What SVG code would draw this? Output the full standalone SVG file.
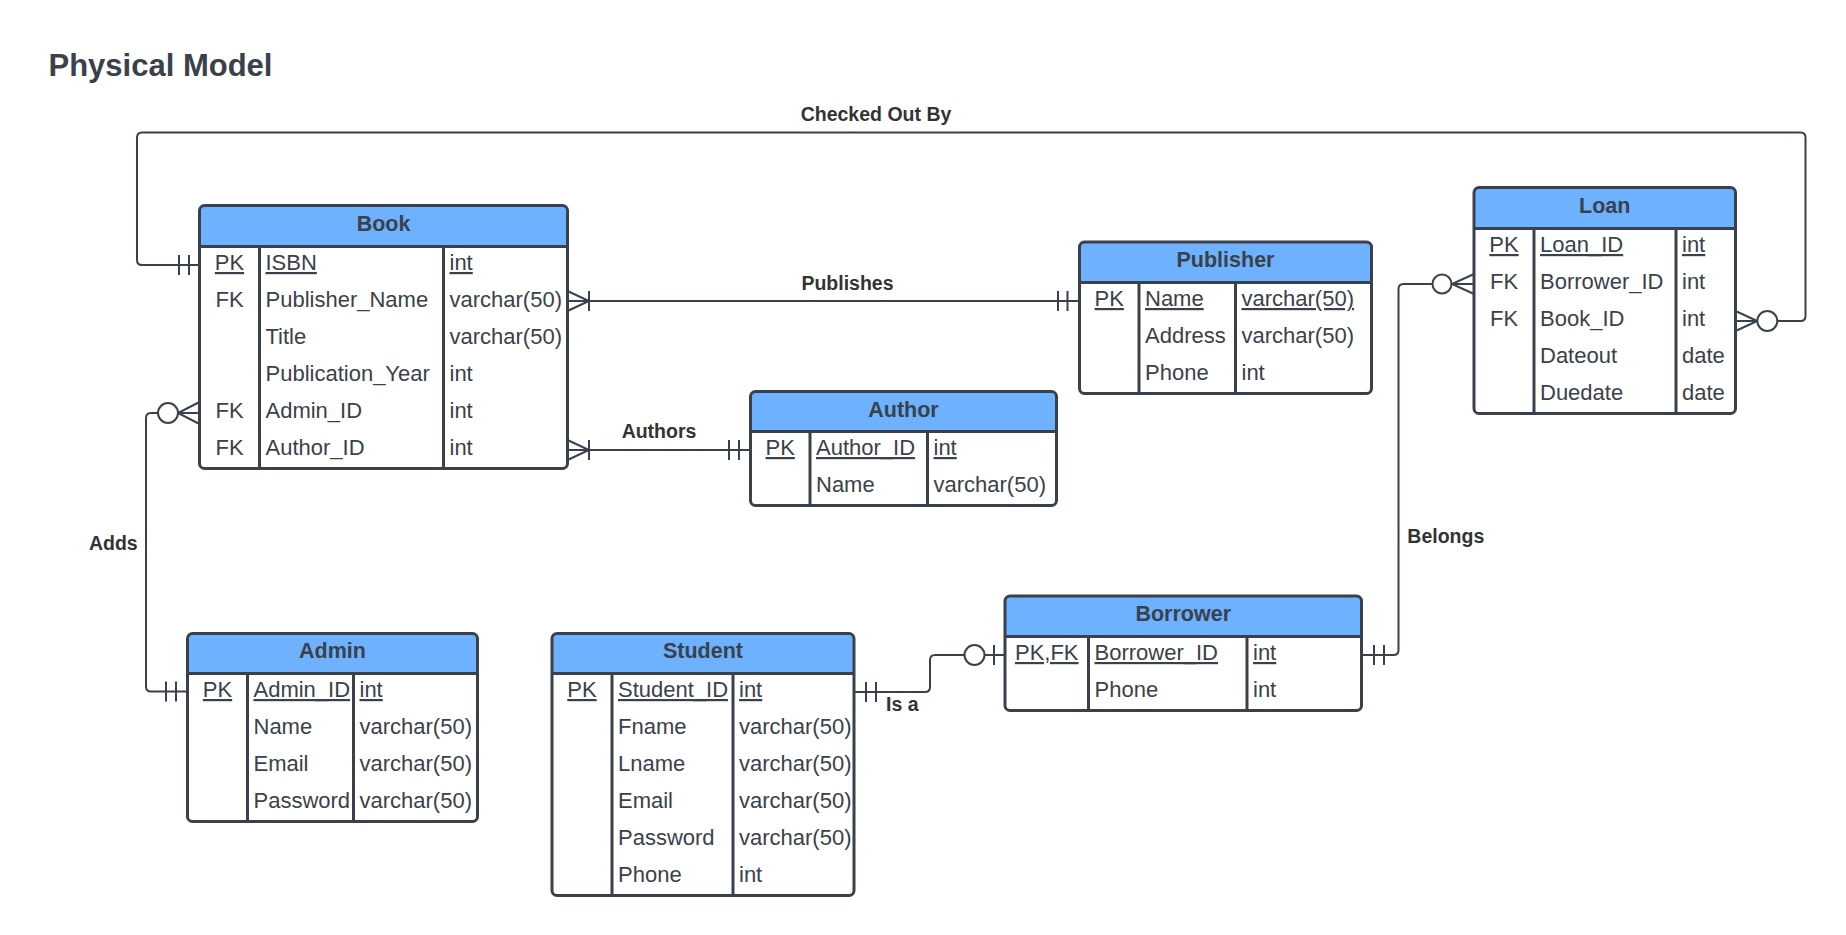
<svg xmlns="http://www.w3.org/2000/svg" width="1846" height="935" viewBox="0 0 1846 935">
<style>
  text { font-family: "Liberation Sans", Arial, sans-serif; fill: #3a414a; }
  .title { font-size: 31px; font-weight: bold; }
  .hdrtxt { font-size: 21.5px; font-weight: bold; text-anchor: middle; }
  .cell { font-size: 22px; }
  .key { font-size: 22px; text-anchor: middle; }
  .u { text-decoration: underline; }
  .lbl { font-size: 19.5px; font-weight: bold; fill: #333333; }
  .mid { text-anchor: middle; }
  .body { fill: #ffffff; }
  .hdr { fill: #6db1ff; }
  .frame { fill: none; stroke: #3a414a; stroke-width: 3; }
  .div { stroke: #3a414a; stroke-width: 3; }
  .conn { fill: none; stroke: #3a414a; stroke-width: 2; }
  .circ { fill: #ffffff; stroke: #3a414a; stroke-width: 2; }
</style>
<rect width="1846" height="935" fill="#ffffff"/>
<text class="title" x="48.5" y="76">Physical Model</text>

<g id="connectors">
  <!-- Checked Out By: Book ISBN -> Loan Book_ID -->
  <path class="conn" d="M199.5,265 H142 Q137,265 137,260 V137.5 Q137,132.5 142,132.5 H1800.5 Q1805.5,132.5 1805.5,137.5 V316 Q1805.5,321 1800.5,321 H1777.3"/>
  <path class="conn" d="M179,255 V275 M189,255 V275"/>
  <path class="conn" d="M1735.5,311 L1757.3,321 L1735.5,331 M1735.5,321 H1757.3"/>
  <circle class="circ" cx="1767.3" cy="321" r="10"/>
  <text class="lbl mid" x="876" y="120.5">Checked Out By</text>

  <!-- Publishes -->
  <path class="conn" d="M567.5,301 H1079.5"/>
  <path class="conn" d="M567.5,291 L589,301 L567.5,311 M589,291 V311"/>
  <path class="conn" d="M1058,291 V311 M1067.5,291 V311"/>
  <text class="lbl mid" x="847.5" y="289.5">Publishes</text>

  <!-- Authors -->
  <path class="conn" d="M567.5,450 H750.5"/>
  <path class="conn" d="M567.5,440 L589,450 L567.5,460 M589,440 V460"/>
  <path class="conn" d="M729,440 V460 M739,440 V460"/>
  <text class="lbl mid" x="659" y="438">Authors</text>

  <!-- Adds -->
  <path class="conn" d="M158,413 H151 Q146,413 146,418 V686.5 Q146,691.5 151,691.5 H187.5"/>
  <path class="conn" d="M199.5,402 L178,413 L199.5,424 M178,413 H199.5"/>
  <circle class="circ" cx="168" cy="413" r="10"/>
  <path class="conn" d="M166,681.5 V701.5 M176,681.5 V701.5"/>
  <text class="lbl mid" x="113.3" y="550">Adds</text>

  <!-- Belongs -->
  <path class="conn" d="M1361.5,655 H1393.5 Q1398.5,655 1398.5,650 V289 Q1398.5,284 1403.5,284 H1432.5"/>
  <path class="conn" d="M1474,274 L1452,284 L1474,294 M1451.5,284 H1474"/>
  <circle class="circ" cx="1442" cy="284" r="9.5"/>
  <path class="conn" d="M1374,645 V665 M1384,645 V665"/>
  <text class="lbl" x="1407.3" y="543.3">Belongs</text>

  <!-- Is a -->
  <path class="conn" d="M854,692 H925 Q930,692 930,687 V660 Q930,655 935,655 H964.5"/>
  <circle class="circ" cx="974.5" cy="655" r="10"/>
  <path class="conn" d="M984.5,655 H1005 M994,645 V665"/>
  <path class="conn" d="M866,682 V702 M876,682 V702"/>
  <text class="lbl" x="886" y="711">Is a</text>
</g>

<g id="book">
  <rect class="body" x="199.5" y="205.5" width="368" height="263" rx="5"/>
  <path class="hdr" d="M199.5,246.5 V210.5 Q199.5,205.5 204.5,205.5 H562.5 Q567.5,205.5 567.5,210.5 V246.5 Z"/>
  <line class="div" x1="199.5" y1="246.5" x2="567.5" y2="246.5"/>
  <line class="div" x1="259.5" y1="246.5" x2="259.5" y2="468.5"/>
  <line class="div" x1="443.5" y1="246.5" x2="443.5" y2="468.5"/>
  <rect class="frame" x="199.5" y="205.5" width="368" height="263" rx="5"/>
  <text class="hdrtxt" x="383.5" y="230.5">Book</text>
  <text class="key u" x="229.5" y="270">PK</text>
  <text class="cell u" x="265.5" y="270">ISBN</text>
  <text class="cell u" x="449.5" y="270">int</text>
  <text class="key" x="229.5" y="307">FK</text>
  <text class="cell" x="265.5" y="307">Publisher_Name</text>
  <text class="cell" x="449.5" y="307">varchar(50)</text>
  <text class="cell" x="265.5" y="344">Title</text>
  <text class="cell" x="449.5" y="344">varchar(50)</text>
  <text class="cell" x="265.5" y="381">Publication_Year</text>
  <text class="cell" x="449.5" y="381">int</text>
  <text class="key" x="229.5" y="418">FK</text>
  <text class="cell" x="265.5" y="418">Admin_ID</text>
  <text class="cell" x="449.5" y="418">int</text>
  <text class="key" x="229.5" y="455">FK</text>
  <text class="cell" x="265.5" y="455">Author_ID</text>
  <text class="cell" x="449.5" y="455">int</text>
</g>

<g id="publisher">
  <rect class="body" x="1079.5" y="242" width="292" height="151.5" rx="5"/>
  <path class="hdr" d="M1079.5,282.5 V247 Q1079.5,242 1084.5,242 H1366.5 Q1371.5,242 1371.5,247 V282.5 Z"/>
  <line class="div" x1="1079.5" y1="282.5" x2="1371.5" y2="282.5"/>
  <line class="div" x1="1139" y1="282.5" x2="1139" y2="393.5"/>
  <line class="div" x1="1235.5" y1="282.5" x2="1235.5" y2="393.5"/>
  <rect class="frame" x="1079.5" y="242" width="292" height="151.5" rx="5"/>
  <text class="hdrtxt" x="1225.5" y="267">Publisher</text>
  <text class="key u" x="1109.25" y="306">PK</text>
  <text class="cell u" x="1145" y="306">Name</text>
  <text class="cell u" x="1241.5" y="306">varchar(50)</text>
  <text class="cell" x="1145" y="343">Address</text>
  <text class="cell" x="1241.5" y="343">varchar(50)</text>
  <text class="cell" x="1145" y="380">Phone</text>
  <text class="cell" x="1241.5" y="380">int</text>
</g>

<g id="author">
  <rect class="body" x="750.5" y="391.5" width="306" height="114" rx="5"/>
  <path class="hdr" d="M750.5,431.5 V396.5 Q750.5,391.5 755.5,391.5 H1051.5 Q1056.5,391.5 1056.5,396.5 V431.5 Z"/>
  <line class="div" x1="750.5" y1="431.5" x2="1056.5" y2="431.5"/>
  <line class="div" x1="810" y1="431.5" x2="810" y2="505.5"/>
  <line class="div" x1="927.5" y1="431.5" x2="927.5" y2="505.5"/>
  <rect class="frame" x="750.5" y="391.5" width="306" height="114" rx="5"/>
  <text class="hdrtxt" x="903.5" y="416.5">Author</text>
  <text class="key u" x="780.25" y="455">PK</text>
  <text class="cell u" x="816" y="455">Author_ID</text>
  <text class="cell u" x="933.5" y="455">int</text>
  <text class="cell" x="816" y="492">Name</text>
  <text class="cell" x="933.5" y="492">varchar(50)</text>
</g>

<g id="loan">
  <rect class="body" x="1474" y="187.5" width="261.5" height="226" rx="5"/>
  <path class="hdr" d="M1474,228.5 V192.5 Q1474,187.5 1479,187.5 H1730.5 Q1735.5,187.5 1735.5,192.5 V228.5 Z"/>
  <line class="div" x1="1474" y1="228.5" x2="1735.5" y2="228.5"/>
  <line class="div" x1="1534" y1="228.5" x2="1534" y2="413.5"/>
  <line class="div" x1="1676" y1="228.5" x2="1676" y2="413.5"/>
  <rect class="frame" x="1474" y="187.5" width="261.5" height="226" rx="5"/>
  <text class="hdrtxt" x="1604.75" y="212.5">Loan</text>
  <text class="key u" x="1504" y="252">PK</text>
  <text class="cell u" x="1540" y="252">Loan_ID</text>
  <text class="cell u" x="1682" y="252">int</text>
  <text class="key" x="1504" y="289">FK</text>
  <text class="cell" x="1540" y="289">Borrower_ID</text>
  <text class="cell" x="1682" y="289">int</text>
  <text class="key" x="1504" y="326">FK</text>
  <text class="cell" x="1540" y="326">Book_ID</text>
  <text class="cell" x="1682" y="326">int</text>
  <text class="cell" x="1540" y="363">Dateout</text>
  <text class="cell" x="1682" y="363">date</text>
  <text class="cell" x="1540" y="400">Duedate</text>
  <text class="cell" x="1682" y="400">date</text>
</g>

<g id="admin">
  <rect class="body" x="187.5" y="633.5" width="290" height="188" rx="5"/>
  <path class="hdr" d="M187.5,673.5 V638.5 Q187.5,633.5 192.5,633.5 H472.5 Q477.5,633.5 477.5,638.5 V673.5 Z"/>
  <line class="div" x1="187.5" y1="673.5" x2="477.5" y2="673.5"/>
  <line class="div" x1="247.5" y1="673.5" x2="247.5" y2="821.5"/>
  <line class="div" x1="353.5" y1="673.5" x2="353.5" y2="821.5"/>
  <rect class="frame" x="187.5" y="633.5" width="290" height="188" rx="5"/>
  <text class="hdrtxt" x="332.5" y="658">Admin</text>
  <text class="key u" x="217.5" y="697">PK</text>
  <text class="cell u" x="253.5" y="697">Admin_ID</text>
  <text class="cell u" x="359.5" y="697">int</text>
  <text class="cell" x="253.5" y="734">Name</text>
  <text class="cell" x="359.5" y="734">varchar(50)</text>
  <text class="cell" x="253.5" y="771">Email</text>
  <text class="cell" x="359.5" y="771">varchar(50)</text>
  <text class="cell" x="253.5" y="808">Password</text>
  <text class="cell" x="359.5" y="808">varchar(50)</text>
</g>

<g id="student">
  <rect class="body" x="552" y="633.5" width="302" height="262" rx="5"/>
  <path class="hdr" d="M552,673.5 V638.5 Q552,633.5 557,633.5 H849 Q854,633.5 854,638.5 V673.5 Z"/>
  <line class="div" x1="552" y1="673.5" x2="854" y2="673.5"/>
  <line class="div" x1="612" y1="673.5" x2="612" y2="895.5"/>
  <line class="div" x1="733" y1="673.5" x2="733" y2="895.5"/>
  <rect class="frame" x="552" y="633.5" width="302" height="262" rx="5"/>
  <text class="hdrtxt" x="703" y="658">Student</text>
  <text class="key u" x="582" y="697">PK</text>
  <text class="cell u" x="618" y="697">Student_ID</text>
  <text class="cell u" x="739" y="697">int</text>
  <text class="cell" x="618" y="734">Fname</text>
  <text class="cell" x="739" y="734">varchar(50)</text>
  <text class="cell" x="618" y="771">Lname</text>
  <text class="cell" x="739" y="771">varchar(50)</text>
  <text class="cell" x="618" y="808">Email</text>
  <text class="cell" x="739" y="808">varchar(50)</text>
  <text class="cell" x="618" y="845">Password</text>
  <text class="cell" x="739" y="845">varchar(50)</text>
  <text class="cell" x="618" y="882">Phone</text>
  <text class="cell" x="739" y="882">int</text>
</g>

<g id="borrower">
  <rect class="body" x="1005" y="596" width="356.5" height="114.5" rx="5"/>
  <path class="hdr" d="M1005,636.5 V601 Q1005,596 1010,596 H1356.5 Q1361.5,596 1361.5,601 V636.5 Z"/>
  <line class="div" x1="1005" y1="636.5" x2="1361.5" y2="636.5"/>
  <line class="div" x1="1088.5" y1="636.5" x2="1088.5" y2="710.5"/>
  <line class="div" x1="1247" y1="636.5" x2="1247" y2="710.5"/>
  <rect class="frame" x="1005" y="596" width="356.5" height="114.5" rx="5"/>
  <text class="hdrtxt" x="1183.25" y="621">Borrower</text>
  <text class="key u" x="1046.75" y="660">PK,FK</text>
  <text class="cell u" x="1094.5" y="660">Borrower_ID</text>
  <text class="cell u" x="1253" y="660">int</text>
  <text class="cell" x="1094.5" y="697">Phone</text>
  <text class="cell" x="1253" y="697">int</text>
</g>
</svg>
